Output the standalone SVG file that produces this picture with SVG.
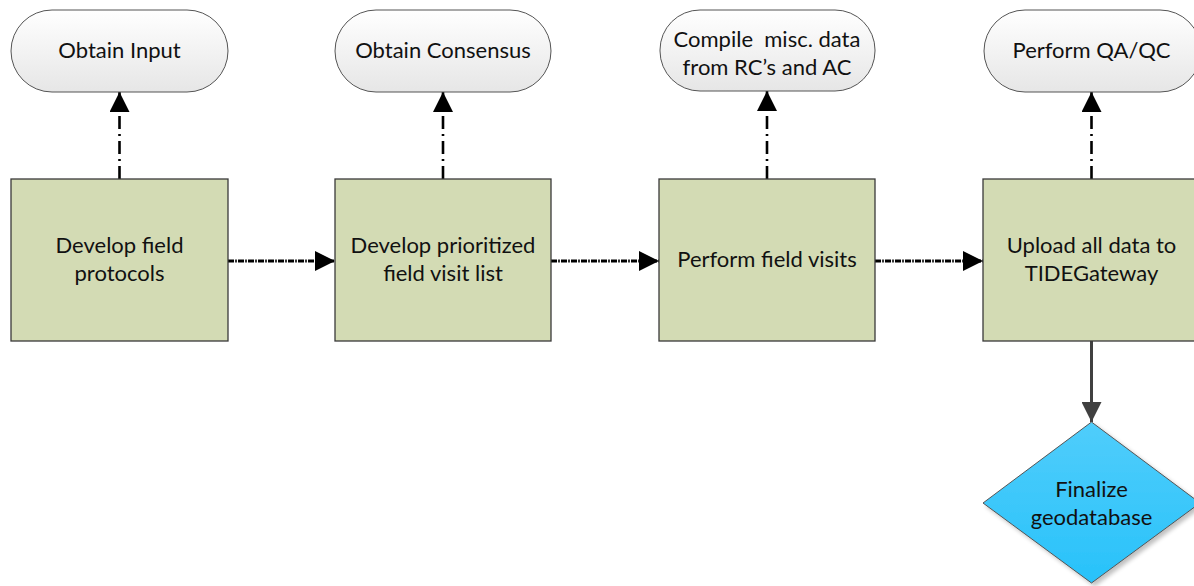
<svg xmlns="http://www.w3.org/2000/svg" width="1194" height="586" viewBox="0 0 1194 586">
  <style>
    text { font-family: Lato, "Open Sans", "Liberation Sans", sans-serif; font-size: 22px; fill: #111; text-anchor: middle; }
    .term { fill: url(#termFill); stroke: #555; stroke-width: 1; }
    .proc { fill: #d3dbb4; stroke: #3a3a3a; stroke-width: 1.3; }
    .dec { fill: url(#decFill); stroke: #555; stroke-width: 1; }
    .dashed { fill: none; stroke: #000; stroke-width: 2.6; stroke-dasharray: 13 5 2 5; marker-end: url(#arrowBlack); }
    .dashed.flow { stroke-width: 3; stroke-dasharray: 6 1.2 1.6 1.2; }
    .solid { fill: none; stroke: #404040; stroke-width: 3; marker-end: url(#arrowGray); }
  </style>
  <defs>
    <linearGradient id="termFill" x1="0" y1="0" x2="0" y2="1">
      <stop offset="0" stop-color="#ffffff"/>
      <stop offset="1" stop-color="#e6e6e6"/>
    </linearGradient>
    <linearGradient id="decFill" x1="0" y1="0" x2="0" y2="1">
      <stop offset="0" stop-color="#50cdfb"/>
      <stop offset="1" stop-color="#28c2fa"/>
    </linearGradient>
    <filter id="shadow" x="-20%" y="-20%" width="150%" height="150%">
      <feGaussianBlur in="SourceAlpha" stdDeviation="2"/>
      <feOffset dx="3" dy="3" result="b"/>
      <feComponentTransfer><feFuncA type="linear" slope="0.25"/></feComponentTransfer>
      <feMerge><feMergeNode/><feMergeNode in="SourceGraphic"/></feMerge>
    </filter>
    <marker id="arrowBlack" viewBox="0 0 20 20" refX="20" refY="10" markerWidth="20" markerHeight="20" markerUnits="userSpaceOnUse" orient="auto">
      <path d="M0,0 L20,10 L0,20 Z" fill="#000"/>
    </marker>
    <marker id="arrowGray" viewBox="0 0 20 20" refX="20" refY="10" markerWidth="20" markerHeight="20" markerUnits="userSpaceOnUse" orient="auto">
      <path d="M0,0 L20,10 L0,20 Z" fill="#404040"/>
    </marker>
  </defs>

  <!-- connectors -->
  <g id="connectors">
    <path class="dashed" d="M119.5,179 V92"/>
    <path class="dashed" d="M443,179 V92"/>
    <path class="dashed" d="M767,179 V91"/>
    <path class="dashed" d="M1091.5,179 V92"/>
    <path class="dashed flow" d="M228,261 H335"/>
    <path class="dashed flow" d="M551,261 H659"/>
    <path class="dashed flow" d="M875,261 H983"/>
    <path class="solid" d="M1091.5,341 V422"/>
  </g>

  <!-- terminators -->
  <g id="obtain-input">
    <rect class="term" x="11" y="10" width="217" height="82" rx="41"/>
    <text x="119.5" y="58">Obtain Input</text>
  </g>
  <g id="obtain-consensus">
    <rect class="term" x="335" y="10" width="216" height="82" rx="41"/>
    <text x="443" y="58">Obtain Consensus</text>
  </g>
  <g id="compile-misc">
    <rect class="term" x="660" y="10" width="215" height="81" rx="40"/>
    <text x="767" y="47"><tspan xml:space="preserve">Compile  misc. data</tspan></text>
    <text x="767" y="75">from RC’s and AC</text>
  </g>
  <g id="perform-qaqc">
    <rect class="term" x="984" y="10" width="217" height="82" rx="41"/>
    <text x="1091.5" y="58">Perform QA/QC</text>
  </g>

  <!-- process steps -->
  <g id="develop-protocols">
    <rect class="proc" x="11" y="179" width="217" height="162"/>
    <text x="119.5" y="253">Develop field</text>
    <text x="119.5" y="281">protocols</text>
  </g>
  <g id="develop-list">
    <rect class="proc" x="335" y="179" width="216" height="162"/>
    <text x="443" y="253">Develop prioritized</text>
    <text x="443" y="281">field visit list</text>
  </g>
  <g id="field-visits">
    <rect class="proc" x="659" y="179" width="216" height="162"/>
    <text x="767" y="267">Perform field visits</text>
  </g>
  <g id="upload-data">
    <rect class="proc" x="983" y="179" width="217" height="162"/>
    <text x="1091.5" y="253">Upload all data to</text>
    <text x="1091.5" y="281">TIDEGateway</text>
  </g>

  <!-- decision -->
  <g id="finalize-geodatabase">
    <path class="dec" filter="url(#shadow)" d="M1091.5,422 L1200,503 L1091.5,583 L983,503 Z"/>
    <text x="1091.5" y="497">Finalize</text>
    <text x="1091.5" y="525">geodatabase</text>
  </g>
</svg>
